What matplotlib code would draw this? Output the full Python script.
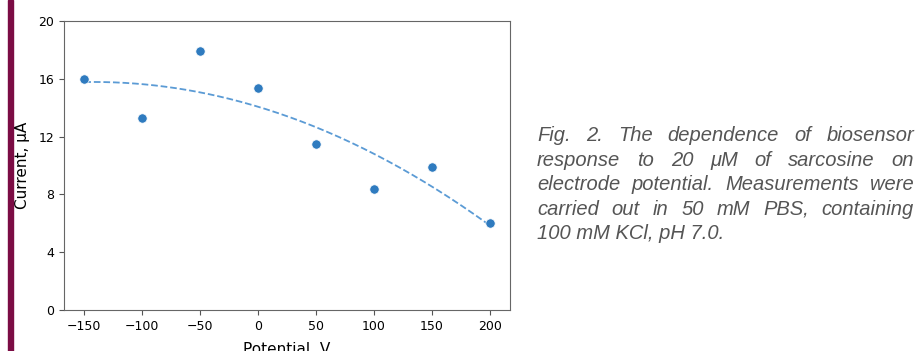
import numpy as np
import matplotlib.pyplot as plt

# data
potential = [-150, -100, -50, 0, 50, 100, 150, 200]
current = [16.0, 13.3, 17.9, 15.35, 11.5, 8.4, 9.9, 6.05]
xticks = [-150, -100, -50, 0, 50, 100, 150, 200]
yticks = [0, 4, 8, 12, 16, 20]

caption_lines = [
    "Fig. 2. The dependence of biosensor",
    "response to 20 \u03bcM of sarcosine on",
    "electrode potential. Measurements were",
    "carried out in 50 mM PBS, containing",
    "100 mM KCl, pH 7.0.",
]

fig = plt.figure(figsize=(9.21, 3.51), dpi=100)
W, H = 921, 351

# maroon bar at the left edge
fig.patches.append(plt.Rectangle((8 / W, 0), 5 / W, 1, transform=fig.transFigure,
                                 color='#7b0c44', zorder=0))

ax = fig.add_axes([64 / W, 1 - 310 / H, (510 - 64) / W, (310 - 21) / H])

x = np.array(potential)
y = np.array(current)
coef = np.polyfit(x, y, 2)
xs = np.linspace(x.min(), x.max(), 200)
ax.plot(xs, np.polyval(coef, xs), '--', color='#5b9bd5', lw=1.3)
ax.scatter(x, y, s=45, color='#2f7bbf', edgecolor='white', linewidth=0.5, zorder=3)

ax.set_xticks(xticks)
ax.set_yticks(yticks)
ax.set_ylim(0, 20)
ax.set_xlabel('Potential, V', fontsize=11, labelpad=7)
ax.set_ylabel('Current, \u03bcA', fontsize=11, labelpad=6)
ax.tick_params(labelsize=9, length=3.5, color='#555555')
for s in ax.spines.values():
    s.set_color('#666666')

# justified caption
fig.canvas.draw()
r = fig.canvas.get_renderer()
left, right = 537, 914
baselines = [141, 165.5, 190, 214.5, 239]
fp = dict(fontsize=14.5, style='italic', family='Liberation Sans', color='#555555',
          va='baseline')
for i, line in enumerate(caption_lines):
    yb = 1 - baselines[i] / H
    words = line.split()
    if i == len(caption_lines) - 1:
        fig.text(left / W, yb, line, **fp)
        continue
    ts = [fig.text(0, yb, w, **fp) for w in words]
    widths = [t.get_window_extent(r).width for t in ts]
    gap = (right - left - sum(widths)) / (len(words) - 1)
    xpos = left
    for t, w in zip(ts, widths):
        t.set_x(xpos / W)
        xpos += w + gap

fig.savefig('out.png', dpi=100)
